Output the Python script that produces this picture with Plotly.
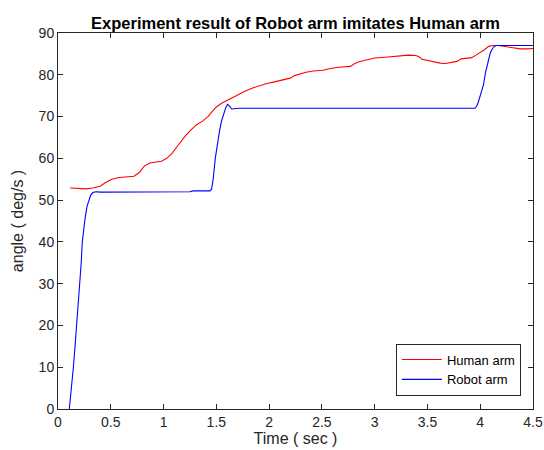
import plotly.graph_objects as go

human_t = [0.115, 0.2, 0.27, 0.33, 0.40, 0.45, 0.51, 0.58, 0.65, 0.72, 0.77, 0.82, 0.87, 0.93, 0.98,
           1.03, 1.08, 1.14, 1.20, 1.26, 1.31, 1.37, 1.42, 1.46, 1.50, 1.55, 1.61, 1.67, 1.72, 1.78,
           1.85, 1.92, 1.98, 2.05, 2.13, 2.20, 2.24, 2.29, 2.35, 2.42, 2.51, 2.58, 2.66, 2.77, 2.80,
           2.85, 2.92, 3.00, 3.10, 3.18, 3.25, 3.32, 3.39, 3.42, 3.45, 3.50, 3.55, 3.62, 3.67, 3.73,
           3.78, 3.82, 3.88, 3.92, 3.96, 4.00, 4.04, 4.08, 4.12, 4.17, 4.22, 4.30, 4.38, 4.45, 4.5]
human_v = [52.9, 52.8, 52.7, 52.9, 53.3, 54.2, 55.0, 55.4, 55.5, 55.7, 56.6, 58.2, 58.9, 59.1, 59.3,
           60.0, 61.2, 63.2, 65.2, 66.8, 68.0, 68.9, 70.0, 71.2, 72.3, 73.2, 74.0, 74.8, 75.5, 76.2,
           76.9, 77.5, 77.9, 78.3, 78.8, 79.2, 79.8, 80.2, 80.6, 80.9, 81.1, 81.5, 81.8, 82.0, 82.5,
           83.1, 83.6, 84.0, 84.2, 84.4, 84.6, 84.7, 84.6, 84.3, 83.7, 83.4, 83.1, 82.8, 82.7, 82.9,
           83.2, 83.8, 84.0, 84.1, 84.7, 85.3, 86.0, 86.8, 87.0, 87.0, 86.8, 86.5, 86.2, 86.2, 86.3]

robot_t = [0.107, 0.125, 0.145, 0.16, 0.177, 0.19, 0.208, 0.22, 0.23, 0.245, 0.256, 0.275, 0.294,
           0.31, 0.33, 0.36, 0.40, 1.25, 1.28, 1.44, 1.455, 1.47, 1.49, 1.51, 1.53, 1.55, 1.57,
           1.59, 1.607, 1.625, 1.645, 1.67, 1.72, 3.95, 3.965, 3.98, 4.00, 4.03, 4.05, 4.075,
           4.095, 4.11, 4.13, 4.15, 4.5]
robot_v = [0, 4, 9.8, 14.5, 19.8, 24.5, 29.8, 35, 39.9, 43.5, 45.5, 48.5, 50.2,
           51.2, 51.8, 52.0, 51.9, 52.0, 52.2, 52.2, 52.6, 55, 60, 63.5, 66.5, 69, 70.8,
           72.2, 72.9, 72.5, 71.8, 71.9, 72.0, 72.0, 72.4, 73.3, 75.0, 77.5, 80.5, 83.5,
           85.2, 86.0, 86.7, 87.0, 87.0]

x_ticks = [0, 0.5, 1, 1.5, 2, 2.5, 3, 3.5, 4, 4.5]
x_labels = ["0", "0.5", "1", "1.5", "2", "2.5", "3", "3.5", "4", "4.5"]
y_ticks = [0, 10, 20, 30, 40, 50, 60, 70, 80, 90]

FONT = "Liberation Sans, Arial, Helvetica, sans-serif"
AX = "#262626"

fig = go.Figure()
fig.add_trace(go.Scatter(x=human_t, y=human_v, mode="lines", name="Human arm",
                         line=dict(color="#ff0000", width=1.1)))
fig.add_trace(go.Scatter(x=robot_t, y=robot_v, mode="lines", name="Robot arm",
                         line=dict(color="#0000ff", width=1.1)))

axis_common = dict(showline=True, linecolor=AX, linewidth=1, mirror="ticks",
                   ticks="inside", ticklen=5, tickcolor=AX, showgrid=False, zeroline=False,
                   automargin=False,
                   tickfont=dict(family=FONT, size=14, color=AX))

fig.update_layout(
    width=544, height=450,
    margin=dict(l=58, r=11, t=33, b=41),
    paper_bgcolor="white", plot_bgcolor="white",
    title=dict(text="<b>Experiment result of Robot arm imitates Human arm</b>",
               x=(58 + 533) / 2 / 544, xanchor="center", y=1 - 23 / 450, yanchor="middle",
               font=dict(family=FONT, size=16.5, color="black"), automargin=False),
    xaxis=dict(range=[0, 4.5], tickvals=x_ticks, ticktext=x_labels, ticklabelstandoff=0,
               title=dict(text="Time ( sec )", font=dict(family=FONT, size=16, color=AX), standoff=1),
               **axis_common),
    yaxis=dict(range=[0, 90], tickvals=y_ticks, ticklabelstandoff=0,
               title=dict(text="angle ( deg/s )", font=dict(family=FONT, size=16, color=AX), standoff=11),
               **axis_common),
    legend=dict(x=0.9745, xanchor="right", y=0.105, yanchor="middle",
                bgcolor="white", bordercolor=AX, borderwidth=1,
                font=dict(family=FONT, size=13, color="black"),
                tracegroupgap=0, itemwidth=40),
    showlegend=True,
)

fig.write_html("out.html", config={"displayModeBar": False},
               post_script="document.body.style.margin='0';document.body.style.padding='0';")
